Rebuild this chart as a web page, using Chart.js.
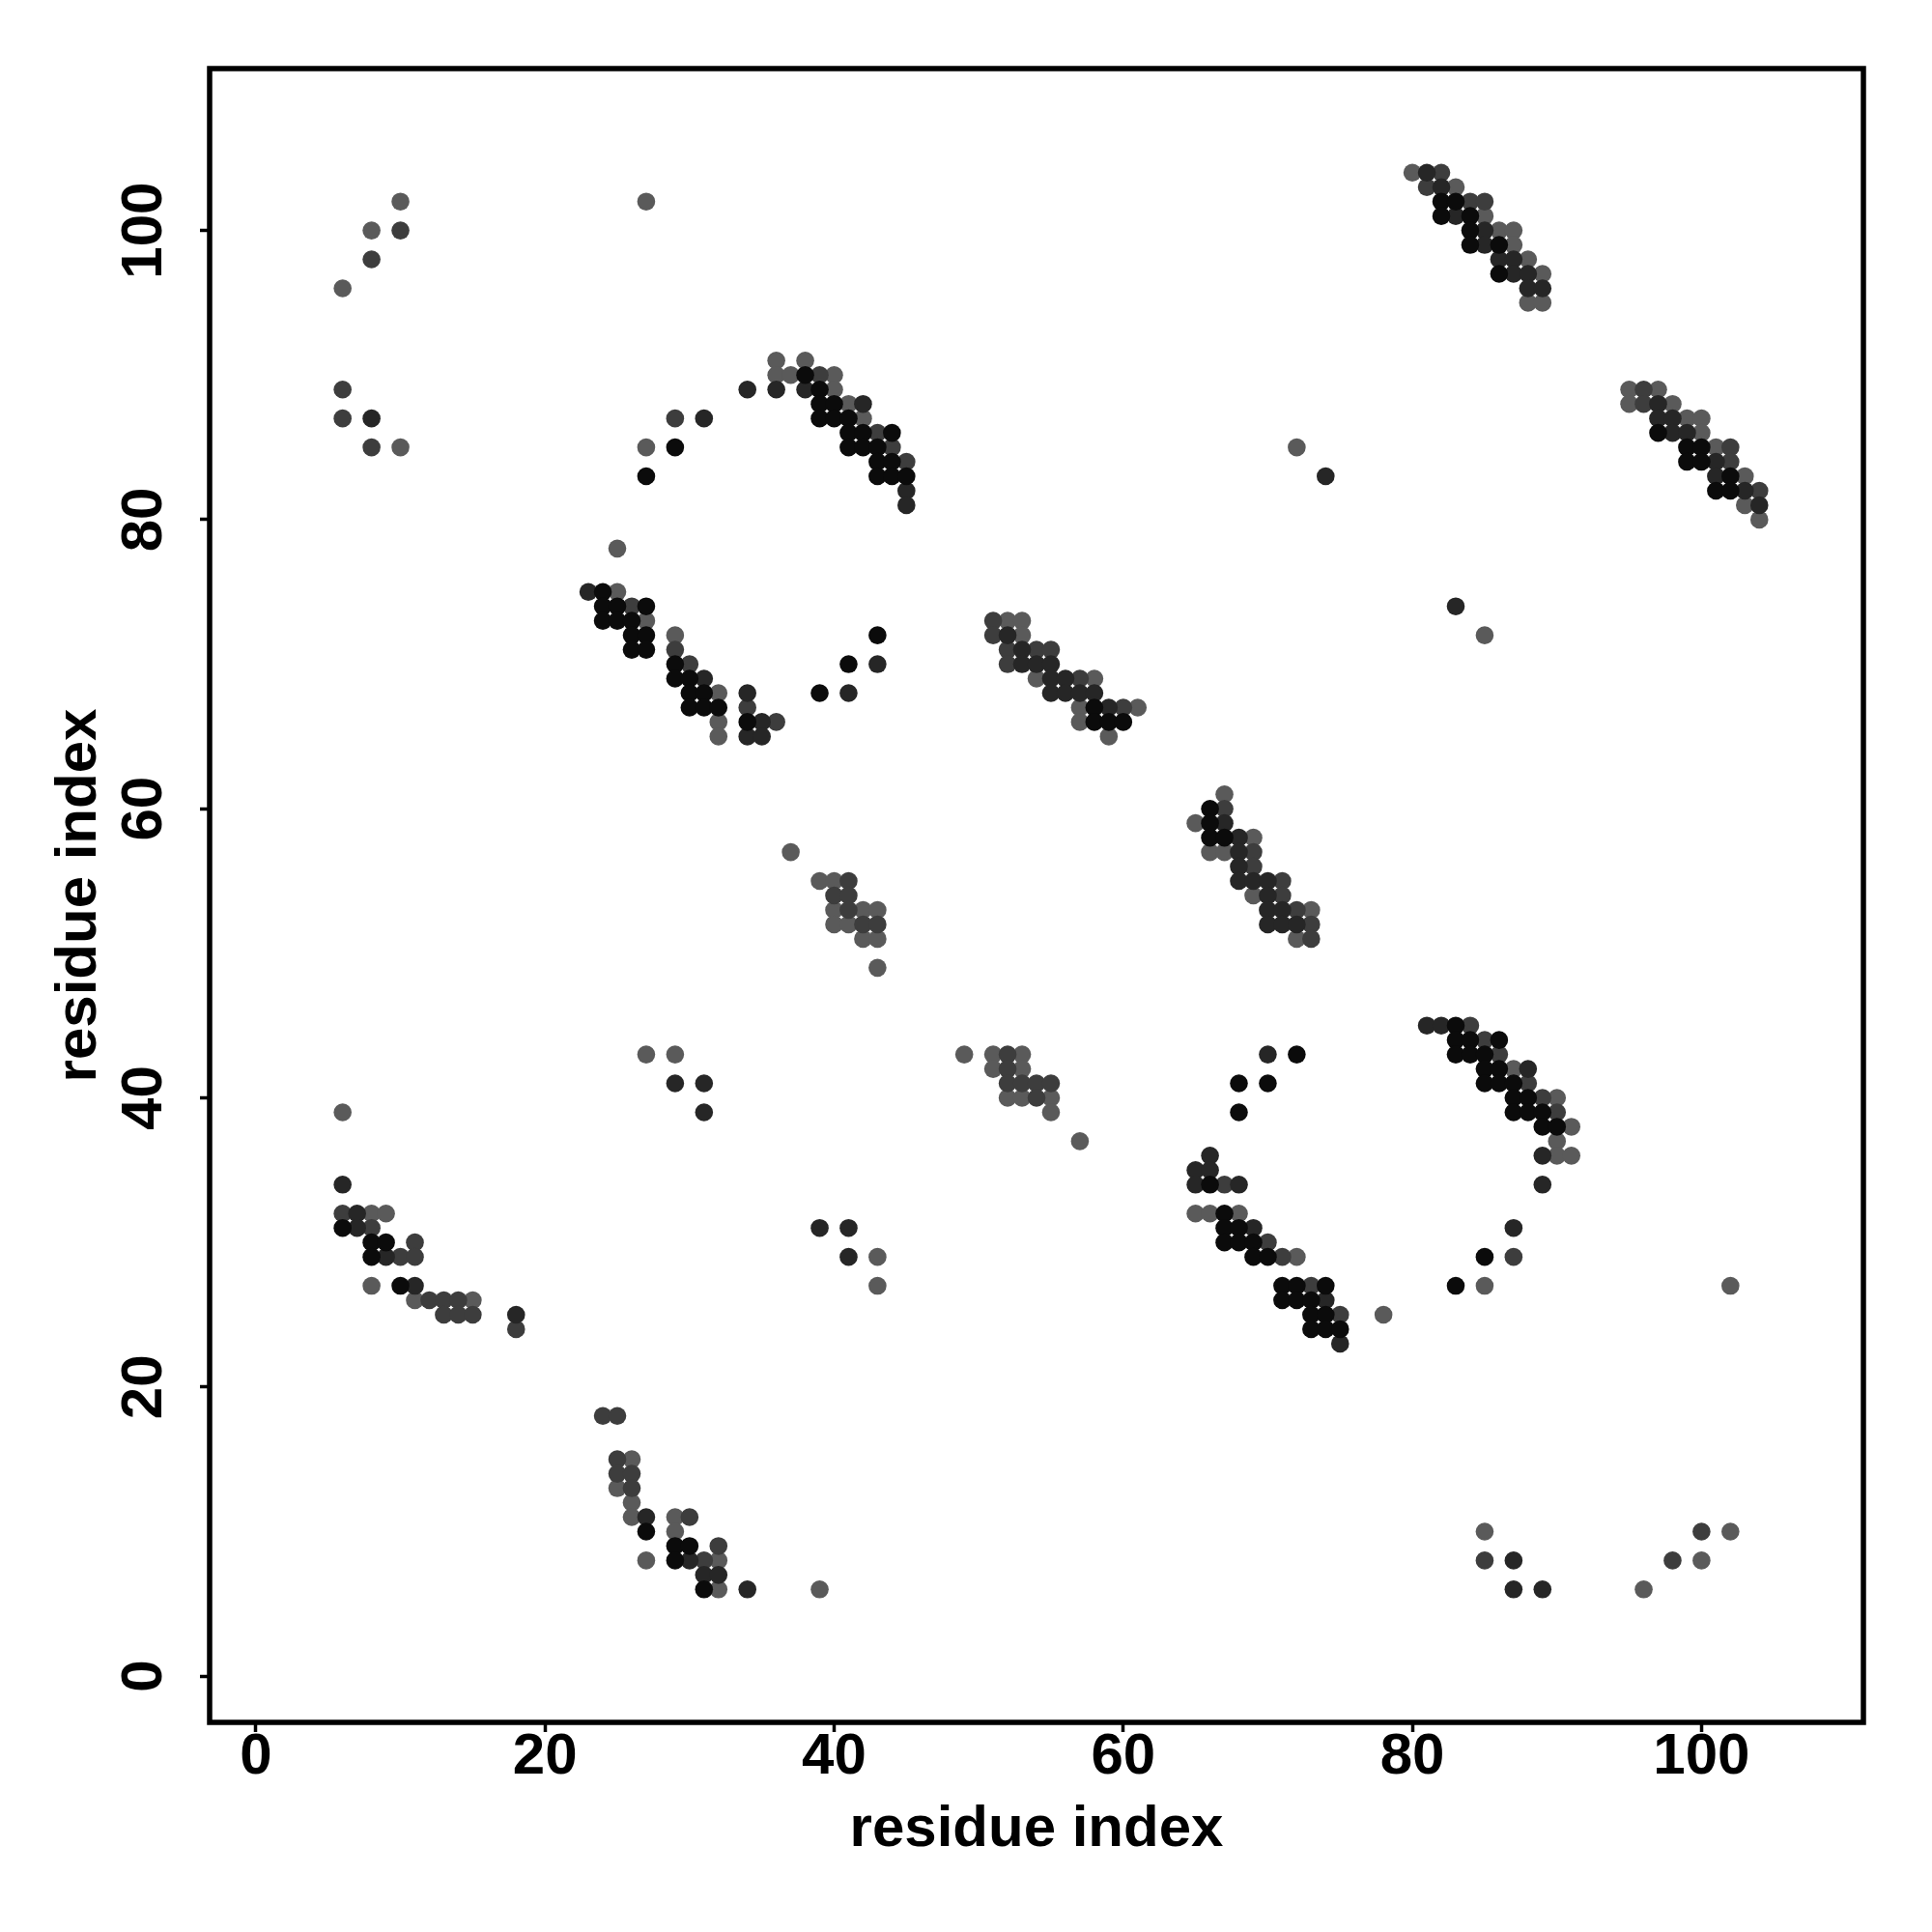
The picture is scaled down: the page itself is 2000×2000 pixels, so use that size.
<!DOCTYPE html>
<html>
<head>
<meta charset="utf-8">
<script src="https://cdn.jsdelivr.net/npm/chart.js@4.4.1/dist/chart.umd.min.js"></script>
<style>
  html, body { margin: 0; padding: 0; background: #ffffff; }
  #wrap { width: 2000px; height: 2000px; }
</style>
</head>
<body>
<div id="wrap"><canvas id="mapa" width="2000" height="2000"></canvas></div>
<script>
// Contatos (residuo i, residuo j), separados por tom de cinza
const contatosPreto = [
  [38,90],[39,89],[39,88],[40,88],[39,87],[40,87],[41,87],[41,86],[42,86],[44,86],
  [41,85],[42,85],[43,85],[43,84],[44,84],[43,83],[44,83],[45,83],[29,85],[27,83],
  [24,75],[24,74],[25,74],[27,74],[24,73],[25,73],[26,73],[26,72],[27,72],[26,71],
  [27,71],[29,70],[29,69],[30,69],[30,68],[31,68],[30,67],[31,67],[32,67],[34,66],
  [39,68],[41,70],[43,72],[58,67],[58,66],[59,66],[60,66],[66,60],[66,59],[66,58],
  [67,58],[6,31],[8,30],[9,30],[8,29],[10,27],[27,10],[29,9],[30,9],[29,8],[31,6],
  [66,34],[67,32],[67,31],[68,31],[67,30],[68,30],[69,30],[69,29],[70,29],[71,27],
  [72,27],[74,27],[71,26],[72,26],[73,26],[73,25],[74,25],[73,24],[74,24],[75,24],
  [72,43],[68,41],[70,41],[68,39],
  [83,45],[83,44],[84,44],[86,44],[83,43],[84,43],[85,43],[85,42],[86,42],[85,41],
  [86,41],[87,41],[87,40],[88,40],[87,39],[88,39],[89,39],[89,38],[90,38],[85,29],[83,27],
  [82,102],[83,102],[82,101],[84,101],[84,100],[84,99],[86,99],[86,97],
  [97,86],[99,85],[100,85],[99,84],[100,84],[102,83],[101,82],[102,82]
];

const contatosEscuro = [
  [8,87],[34,89],[36,89],[38,89],[42,88],[45,82],[45,81],[31,87],
  [23,75],[31,69],[34,68],[35,66],[34,65],[35,65],[41,68],[43,70],
  [52,72],[53,71],[53,70],[54,70],[55,70],[55,69],[56,69],[55,68],[56,68],[57,68],[58,68],[59,67],
  [67,59],[68,58],[68,57],[68,56],[68,55],[69,55],[70,55],[70,54],[70,53],[71,53],[70,52],[71,52],[72,52],
  [29,41],[31,41],[31,39],[6,34],[7,32],[7,31],[9,29],[11,27],[18,25],
  [27,11],[30,8],[31,7],[32,7],[34,6],[39,31],[41,31],[41,29],
  [66,36],[65,35],[66,35],[65,34],[68,34],[69,31],[74,26],[75,23],[70,43],
  [81,45],[82,45],[88,42],[89,36],[89,34],[87,31],[74,83],[83,74],
  [87,8],[87,6],[89,6],
  [81,104],[82,103],[83,101],[85,100],[85,99],[86,98],[87,98],[87,97],[88,97],[88,96],[89,96],
  [97,88],[97,87],[98,87],[98,86],[99,86],[101,84],[101,83],[103,82],[104,81]
];

const contatosMedio = [
  [8,98],[10,100],[6,89],[6,87],[8,85],[39,90],[43,86],[44,85],[45,84],[29,87],
  [26,74],[29,71],[30,70],[34,67],[36,66],
  [51,73],[51,72],[52,71],[54,71],[55,71],[52,70],[57,69],[60,67],
  [67,60],[69,57],[69,56],[71,55],[71,54],[72,53],[73,52],[73,51],
  [41,55],[40,54],[41,54],[41,53],[42,52],[43,52],
  [52,43],[52,42],[52,41],[53,41],[54,41],[55,41],[54,40],
  [6,32],[8,31],[11,30],[10,29],[11,29],[12,26],[13,26],[14,26],[13,25],[14,25],[15,25],[18,24],
  [24,18],[25,18],[25,15],[25,14],[26,14],[26,13],[30,11],[32,9],[31,8],
  [67,34],[70,30],[71,29],[73,27],[75,25],
  [84,45],[85,44],[86,43],[88,41],[89,40],[90,39],[87,29],
  [85,8],[98,8],[100,10],
  [82,104],[81,103],[84,102],[85,102],
  [96,89],[96,88],[102,85],[102,84],[104,82]
];

const contatosClaro = [
  [6,96],[8,100],[10,102],[10,85],[27,102],
  [36,91],[38,91],[36,90],[37,90],[40,90],[40,89],[41,88],[42,87],[27,85],
  [25,78],[25,75],[27,73],[29,72],[32,68],[32,66],[32,65],
  [52,73],[53,73],[53,72],[54,69],[58,69],[57,67],[61,67],[57,66],[59,65],
  [67,61],[65,59],[69,58],[66,57],[67,57],[69,54],[73,53],[72,51],
  [37,57],[39,55],[40,55],[40,53],[42,53],[43,53],[40,52],[41,52],[42,51],[43,51],[43,49],
  [49,43],[51,43],[53,43],[51,42],[53,42],[52,40],[53,40],[55,40],[55,39],[57,37],
  [27,43],[29,43],[6,39],
  [8,32],[9,32],[8,27],[11,26],[15,26],
  [26,15],[25,13],[26,12],[26,11],[29,11],[29,10],[27,8],[32,8],[32,6],[39,6],
  [43,29],[43,27],
  [65,32],[66,32],[68,32],[72,29],[78,25],
  [87,42],[90,40],[91,38],[90,37],[90,36],[91,36],[85,27],[102,27],
  [85,10],[100,8],[96,6],[102,10],[72,85],[85,72],
  [80,104],[83,103],[85,101],[86,100],[87,100],[87,99],[88,98],[89,97],[88,95],[89,95],
  [95,89],[97,89],[95,88],[98,88],[99,87],[100,87],[100,86],[101,85],[103,83],[103,81],[104,80]
];

const tonsCinza = ['#0b0b0b', '#262626', '#3d3d3d', '#5a5a5a'];
const marcasEixo = [0, 20, 40, 60, 80, 100];
const tituloEixo = 'residue index';

document.addEventListener('DOMContentLoaded', function() {
    const fonteEixo = { family: "'Liberation Sans', Arial, sans-serif", weight: 'bold', size: 60, lineHeight: 1 };

    function paraPontos(lista) {
        return lista.map(p => ({ x: p[0], y: p[1] }));
    }

    // o primeiro dataset fica por cima
    const grupos = [contatosPreto, contatosEscuro, contatosMedio, contatosClaro];
    const datasets = grupos.map((lista, i) => ({
        data: paraPontos(lista),
        backgroundColor: tonsCinza[i],
        borderWidth: 0,
        pointRadius: 9.3,
        pointHoverRadius: 9.3
    }));

    // Moldura em volta da area do grafico
    const moldura = {
        id: 'moldura',
        afterDraw(chart) {
            const a = chart.chartArea;
            const ctx = chart.ctx;
            ctx.save();
            ctx.strokeStyle = '#000';
            ctx.lineWidth = 5.5;
            ctx.strokeRect(a.left, a.top, a.right - a.left, a.bottom - a.top);
            ctx.restore();
        }
    };

    function fixarMarcas(scale) {
        scale.ticks = marcasEixo.map(v => ({ value: v }));
    }

    const ctx = document.getElementById('mapa').getContext('2d');
    new Chart(ctx, {
        type: 'scatter',
        data: { datasets: datasets },
        options: {
            responsive: false,
            animation: false,
            devicePixelRatio: 1,
            layout: { padding: { top: 71, right: 71, left: 0, bottom: 0 } },
            plugins: { legend: { display: false }, tooltip: { enabled: false } },
            scales: {
                x: {
                    type: 'linear',
                    min: -3.2,
                    max: 111.2,
                    afterBuildTicks: fixarMarcas,
                    afterFit(scale) { scale.height = 217; },
                    border: { display: false },
                    grid: { drawOnChartArea: false, tickLength: 10, tickWidth: 3.5, tickColor: '#000' },
                    ticks: { color: '#000', font: fonteEixo, padding: -4, maxRotation: 0 },
                    title: { display: true, text: tituloEixo, color: '#000', font: fonteEixo, padding: { top: 0, bottom: 76 } }
                },
                y: {
                    type: 'linear',
                    min: -3.2,
                    max: 111.2,
                    afterBuildTicks: fixarMarcas,
                    afterFit(scale) { scale.width = 217; },
                    border: { display: false },
                    grid: { drawOnChartArea: false, tickLength: 10, tickWidth: 3.5, tickColor: '#000' },
                    ticks: { color: '#000', font: fonteEixo, padding: 6, minRotation: 90, maxRotation: 90, crossAlign: 'center' },
                    title: { display: true, text: tituloEixo, color: '#000', font: fonteEixo, padding: { top: 52, bottom: 0 } }
                }
            }
        },
        plugins: [moldura]
    });
});
</script>
</body>
</html>
